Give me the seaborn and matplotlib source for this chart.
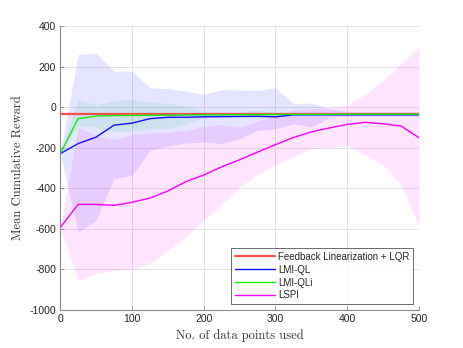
import numpy as np
import pandas as pd
import seaborn as sns
import matplotlib.pyplot as plt

# data
n_points = [0, 25, 50, 75, 100, 125, 150, 175, 200, 225, 250,
            275, 300, 325, 350, 375, 400, 425, 450, 475, 500]

lqr_reward = -32

lmi_ql = [-230, -180, -148, -89, -79, -57, -50, -50, -48, -47, -46,
          -45, -48, -38, -38, -38, -38, -38, -38, -38, -38]
lmi_ql_lo = [-230, -617, -559, -353, -337, -214, -192, -178, -172, -180, -156,
             -115, -107, -82, -98, -50, -45, -45, -45, -45, -45]
lmi_ql_hi = [-230, 260, 267, 178, 178, 96, 91, 79, 63, 86, 85,
             83, 96, 17, 20, -8, -20, -22, -22, -22, -22]

lmi_qli = [-230, -57, -44, -42, -41, -40, -40, -39, -38, -38, -37,
           -37, -36, -36, -36, -36, -35, -35, -35, -35, -35]
lmi_qli_lo = [-230, -90, -100, -120, -115, -107, -105, -82, -50, -45, -45,
              -57, -45, -42, -42, -42, -41, -41, -41, -41, -41]
lmi_qli_hi = [-230, 37, 9, 33, 37, 25, 17, 5, -20, -25, -25,
              -13, -25, -28, -28, -28, -28, -28, -28, -28, -28]

lspi = [-595, -480, -480, -485, -470, -449, -414, -368, -335, -295, -260,
        -222, -185, -150, -122, -103, -85, -75, -82, -93, -151]
lspi_lo = [-595, -858, -822, -806, -803, -773, -707, -640, -560, -480, -395,
           -330, -285, -245, -205, -200, -190, -235, -285, -385, -590]
lspi_hi = [-595, -100, -140, -160, -135, -128, -123, -115, -95, -85, -100,
           -70, -40, -15, -8, -3, 10, 65, 130, 215, 295]

df = pd.DataFrame({'n': n_points,
                   'lqr': [lqr_reward] * len(n_points),
                   'ql': lmi_ql, 'qli': lmi_qli, 'lspi': lspi})

sns.set_style('white')
plt.rcParams['axes.unicode_minus'] = False
plt.rcParams['font.family'] = ['Liberation Sans', 'DejaVu Sans']

fig = plt.figure(figsize=(4.63, 3.48), dpi=100)
ax = fig.add_axes([0.13, 0.11, 0.775, 0.815])

# shaded spread
ax.fill_between(n_points, lmi_ql_lo, lmi_ql_hi, color='#0000ff', alpha=0.1, lw=0)
ax.fill_between(n_points, lmi_qli_lo, lmi_qli_hi, color='#00c060', alpha=0.1, lw=0)
ax.fill_between(n_points, lspi_lo, lspi_hi, color='#ff00ff', alpha=0.1, lw=0)

sns.lineplot(data=df, x='n', y='lqr', color='#ff4d4d', lw=1.6, ax=ax,
             label='Feedback Linearization + LQR')
sns.lineplot(data=df, x='n', y='ql', color='#1010ff', lw=1.0, ax=ax, label='LMI-QL')
sns.lineplot(data=df, x='n', y='qli', color='#10ee10', lw=1.0, ax=ax, label='LMI-QLi')
sns.lineplot(data=df, x='n', y='lspi', color='#ff00ff', lw=1.0, ax=ax, label='LSPI')

ax.set_xlim(0, 500)
ax.set_ylim(-1000, 400)
ax.set_xticks(range(0, 501, 100))
ax.set_yticks(range(-1000, 401, 200))
ax.grid(True, color='#e3e3e3', lw=0.7)
ax.set_axisbelow(True)
for s in ['top', 'right']:
    ax.spines[s].set_visible(False)
for s in ['left', 'bottom']:
    ax.spines[s].set_color('#8a8a8a')
    ax.spines[s].set_linewidth(0.8)
ax.tick_params(direction='in', length=3, width=0.6, color='#8a8a8a',
               labelsize=7.5, labelcolor='#262626', left=True, bottom=True, pad=3)

ax.set_xlabel('No. of data points used', fontfamily='cmr10', fontsize=9, color='#333333')
ax.set_ylabel('Mean Cumulative Reward', fontfamily='cmr10', fontsize=9, color='#333333')

leg = ax.legend(loc='lower right', fontsize=7, frameon=True, fancybox=False,
                handlelength=4.2, borderpad=0.35, labelspacing=0.3,
                handletextpad=0.3, borderaxespad=0.6)
leg.get_frame().set_edgecolor('#444444')
leg.get_frame().set_linewidth(0.7)

fig.savefig('out.png', dpi=100)
